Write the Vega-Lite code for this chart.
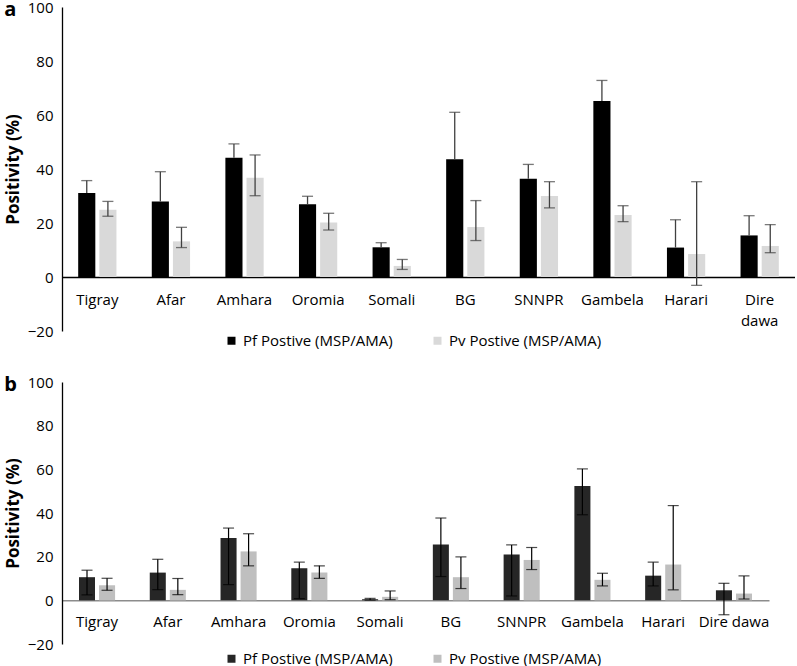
{
  "$schema": "https://vega.github.io/schema/vega-lite/v6.json",
  "background": "white",
  "padding": {"left": 4, "top": 0, "right": 0, "bottom": 0},
  "spacing": 26,
  "config": {"font": "Open Sans", "view": {"stroke": null}},
  "resolve": {"scale": {"color": "independent", "x": "independent", "y": "independent", "xOffset": "independent"}, "legend": {"color": "independent"}},
  "data": {"values": [
    {"panel": "a", "region": "Tigray", "series": "Pf Postive (MSP/AMA)", "value": 31.1, "lo": 31.1, "hi": 35.7},
    {"panel": "a", "region": "Tigray", "series": "Pv Postive (MSP/AMA)", "value": 24.9, "lo": 22.5, "hi": 28.0},
    {"panel": "a", "region": "Afar", "series": "Pf Postive (MSP/AMA)", "value": 28.0, "lo": 28.0, "hi": 39.0},
    {"panel": "a", "region": "Afar", "series": "Pv Postive (MSP/AMA)", "value": 13.2, "lo": 10.9, "hi": 18.4},
    {"panel": "a", "region": "Amhara", "series": "Pf Postive (MSP/AMA)", "value": 44.2, "lo": 44.2, "hi": 49.3},
    {"panel": "a", "region": "Amhara", "series": "Pv Postive (MSP/AMA)", "value": 36.8, "lo": 30.1, "hi": 45.2},
    {"panel": "a", "region": "Oromia", "series": "Pf Postive (MSP/AMA)", "value": 26.9, "lo": 26.9, "hi": 29.9},
    {"panel": "a", "region": "Oromia", "series": "Pv Postive (MSP/AMA)", "value": 20.2, "lo": 17.4, "hi": 23.6},
    {"panel": "a", "region": "Somali", "series": "Pf Postive (MSP/AMA)", "value": 11.0, "lo": 11.0, "hi": 12.7},
    {"panel": "a", "region": "Somali", "series": "Pv Postive (MSP/AMA)", "value": 4.1, "lo": 2.8, "hi": 6.5},
    {"panel": "a", "region": "BG", "series": "Pf Postive (MSP/AMA)", "value": 43.6, "lo": 43.6, "hi": 61.0},
    {"panel": "a", "region": "BG", "series": "Pv Postive (MSP/AMA)", "value": 18.5, "lo": 13.5, "hi": 28.3},
    {"panel": "a", "region": "SNNPR", "series": "Pf Postive (MSP/AMA)", "value": 36.4, "lo": 36.4, "hi": 41.7},
    {"panel": "a", "region": "SNNPR", "series": "Pv Postive (MSP/AMA)", "value": 30.0, "lo": 25.6, "hi": 35.3},
    {"panel": "a", "region": "Gambela", "series": "Pf Postive (MSP/AMA)", "value": 65.2, "lo": 65.2, "hi": 72.8},
    {"panel": "a", "region": "Gambela", "series": "Pv Postive (MSP/AMA)", "value": 23.0, "lo": 20.5, "hi": 26.4},
    {"panel": "a", "region": "Harari", "series": "Pf Postive (MSP/AMA)", "value": 10.9, "lo": 10.9, "hi": 21.2},
    {"panel": "a", "region": "Harari", "series": "Pv Postive (MSP/AMA)", "value": 8.5, "lo": -3.1, "hi": 35.3},
    {"panel": "a", "region": "Dire dawa", "series": "Pf Postive (MSP/AMA)", "value": 15.4, "lo": 15.4, "hi": 22.7},
    {"panel": "a", "region": "Dire dawa", "series": "Pv Postive (MSP/AMA)", "value": 11.5, "lo": 9.0, "hi": 19.4},
    {"panel": "b", "region": "Tigray", "series": "Pf Postive (MSP/AMA)", "value": 10.6, "lo": 2.5, "hi": 13.8},
    {"panel": "b", "region": "Tigray", "series": "Pv Postive (MSP/AMA)", "value": 6.9, "lo": 4.6, "hi": 10.1},
    {"panel": "b", "region": "Afar", "series": "Pf Postive (MSP/AMA)", "value": 12.7, "lo": 4.9, "hi": 18.8},
    {"panel": "b", "region": "Afar", "series": "Pv Postive (MSP/AMA)", "value": 4.8, "lo": 2.6, "hi": 10.0},
    {"panel": "b", "region": "Amhara", "series": "Pf Postive (MSP/AMA)", "value": 28.5, "lo": 7.2, "hi": 33.1},
    {"panel": "b", "region": "Amhara", "series": "Pv Postive (MSP/AMA)", "value": 22.4, "lo": 15.8, "hi": 30.5},
    {"panel": "b", "region": "Oromia", "series": "Pf Postive (MSP/AMA)", "value": 14.7, "lo": 0.8, "hi": 17.5},
    {"panel": "b", "region": "Oromia", "series": "Pv Postive (MSP/AMA)", "value": 12.7, "lo": 10.1, "hi": 15.8},
    {"panel": "b", "region": "Somali", "series": "Pf Postive (MSP/AMA)", "value": 0.5, "lo": 0.1, "hi": 0.9},
    {"panel": "b", "region": "Somali", "series": "Pv Postive (MSP/AMA)", "value": 1.6, "lo": 0.3, "hi": 4.3},
    {"panel": "b", "region": "BG", "series": "Pf Postive (MSP/AMA)", "value": 25.6, "lo": 10.9, "hi": 37.7},
    {"panel": "b", "region": "BG", "series": "Pv Postive (MSP/AMA)", "value": 10.6, "lo": 5.4, "hi": 19.9},
    {"panel": "b", "region": "SNNPR", "series": "Pf Postive (MSP/AMA)", "value": 21.0, "lo": 2.0, "hi": 25.4},
    {"panel": "b", "region": "SNNPR", "series": "Pv Postive (MSP/AMA)", "value": 18.5, "lo": 14.1, "hi": 24.2},
    {"panel": "b", "region": "Gambela", "series": "Pf Postive (MSP/AMA)", "value": 52.4, "lo": 39.2, "hi": 60.2},
    {"panel": "b", "region": "Gambela", "series": "Pv Postive (MSP/AMA)", "value": 9.4, "lo": 6.6, "hi": 12.4},
    {"panel": "b", "region": "Harari", "series": "Pf Postive (MSP/AMA)", "value": 11.3, "lo": 6.6, "hi": 17.5},
    {"panel": "b", "region": "Harari", "series": "Pv Postive (MSP/AMA)", "value": 16.4, "lo": 4.8, "hi": 43.4},
    {"panel": "b", "region": "Dire dawa", "series": "Pf Postive (MSP/AMA)", "value": 4.6, "lo": -6.6, "hi": 7.8},
    {"panel": "b", "region": "Dire dawa", "series": "Pv Postive (MSP/AMA)", "value": 3.1, "lo": 0.6, "hi": 11.2}
  ]},
  "vconcat": [
    {
      "width": 733,
      "height": 324,
      "title": {"text": "a", "anchor": "start", "frame": "bounds", "fontSize": 20, "fontWeight": "bold", "offset": -20, "font": "Open Sans"},
      "transform": [{"filter": "datum.panel == 'a'"}],
      "encoding": {
        "x": {"field": "region", "type": "nominal", "sort": ["Tigray", "Afar", "Amhara", "Oromia", "Somali", "BG", "SNNPR", "Gambela", "Harari", "Dire dawa"],
          "scale": {"paddingInner": 0.48, "paddingOuter": 0.22},
          "axis": {"title": null, "offset": -54, "ticks": false, "labelAngle": 0, "labelFontSize": 15, "labelColor": "#000000", "labelPadding": 15, "labelLineHeight": 21, "domainColor": "#000000", "domainWidth": 1.3, "labelExpr": "datum.label == 'Dire dawa' ? ['Dire', 'dawa'] : datum.label"}},
        "xOffset": {"field": "series", "type": "nominal", "sort": ["Pf Postive (MSP/AMA)", "Pv Postive (MSP/AMA)"], "scale": {"paddingInner": 0.19, "paddingOuter": 0}}
      },
      "layer": [
        {
          "mark": {"type": "bar"},
          "encoding": {
            "y": {"field": "value", "type": "quantitative", "title": "Positivity (%)", "scale": {"domain": [-20, 100], "nice": false, "zero": false},
              "axis": {"values": [-20, 0, 20, 40, 60, 80, 100], "ticks": false, "grid": false, "labelFontSize": 15, "labelColor": "#000000", "labelPadding": 9, "domainColor": "#000000", "domainWidth": 1.3, "titleFontSize": 17, "titleFontWeight": "bold", "titleColor": "#000000", "titlePadding": 5}},
            "color": {"field": "series", "type": "nominal", "sort": ["Pf Postive (MSP/AMA)", "Pv Postive (MSP/AMA)"], "scale": {"range": ["#000000", "#d9d9d9"]},
              "legend": {"orient": "none", "legendX": 162, "legendY": 326, "direction": "horizontal", "title": null, "symbolType": "square", "symbolSize": 64, "symbolStrokeWidth": 0, "labelFontSize": 15, "labelColor": "#000000", "columnPadding": 37, "labelLimit": 300}}
          }
        },
        {
          "mark": {"type": "rule", "color": "#404040", "strokeWidth": 1.3},
          "encoding": {"y": {"field": "lo", "type": "quantitative", "title": "Positivity (%)"}, "y2": {"field": "hi"}}
        },
        {
          "mark": {"type": "tick", "color": "#404040", "size": 11, "thickness": 1.3},
          "encoding": {"y": {"field": "hi", "type": "quantitative", "title": "Positivity (%)"}}
        },
        {
          "transform": [{"filter": "datum.lo < datum.value"}],
          "mark": {"type": "tick", "color": "#404040", "size": 11, "thickness": 1.3},
          "encoding": {"y": {"field": "lo", "type": "quantitative", "title": "Positivity (%)"}}
        }
      ]
    },
    {
      "width": 707,
      "height": 262,
      "title": {"text": "b", "anchor": "start", "frame": "bounds", "fontSize": 20, "fontWeight": "bold", "offset": -20, "font": "Open Sans"},
      "transform": [{"filter": "datum.panel == 'b'"}],
      "encoding": {
        "x": {"field": "region", "type": "nominal", "sort": ["Tigray", "Afar", "Amhara", "Oromia", "Somali", "BG", "SNNPR", "Gambela", "Harari", "Dire dawa"],
          "scale": {"paddingInner": 0.49, "paddingOuter": 0.24},
          "axis": {"title": null, "offset": -43.7, "ticks": false, "labelAngle": 0, "labelFontSize": 15, "labelColor": "#000000", "labelPadding": 14, "domainColor": "#8c8c8c", "domainWidth": 1.5}},
        "xOffset": {"field": "series", "type": "nominal", "sort": ["Pf Postive (MSP/AMA)", "Pv Postive (MSP/AMA)"], "scale": {"paddingInner": 0.2, "paddingOuter": 0}}
      },
      "layer": [
        {
          "mark": {"type": "bar"},
          "encoding": {
            "y": {"field": "value", "type": "quantitative", "title": "Positivity (%)", "scale": {"domain": [-20, 100], "nice": false, "zero": false},
              "axis": {"values": [-20, 0, 20, 40, 60, 80, 100], "ticks": false, "grid": false, "labelFontSize": 15, "labelColor": "#000000", "labelPadding": 9, "domainColor": "#000000", "domainWidth": 1.3, "titleFontSize": 17, "titleFontWeight": "bold", "titleColor": "#000000", "titlePadding": 5}},
            "color": {"field": "series", "type": "nominal", "sort": ["Pf Postive (MSP/AMA)", "Pv Postive (MSP/AMA)"], "scale": {"range": ["#262626", "#bfbfbf"]},
              "legend": {"orient": "none", "legendX": 162, "legendY": 269, "direction": "horizontal", "title": null, "symbolType": "square", "symbolSize": 64, "symbolStrokeWidth": 0, "labelFontSize": 15, "labelColor": "#000000", "columnPadding": 37, "labelLimit": 300}}
          }
        },
        {
          "mark": {"type": "rule", "color": "#000000", "strokeWidth": 1.2},
          "encoding": {"y": {"field": "lo", "type": "quantitative", "title": "Positivity (%)"}, "y2": {"field": "hi"}}
        },
        {
          "mark": {"type": "tick", "color": "#000000", "size": 11, "thickness": 1.2},
          "encoding": {"y": {"field": "hi", "type": "quantitative", "title": "Positivity (%)"}}
        },
        {
          "mark": {"type": "tick", "color": "#000000", "size": 11, "thickness": 1.2},
          "encoding": {"y": {"field": "lo", "type": "quantitative", "title": "Positivity (%)"}}
        }
      ]
    }
  ]
}
